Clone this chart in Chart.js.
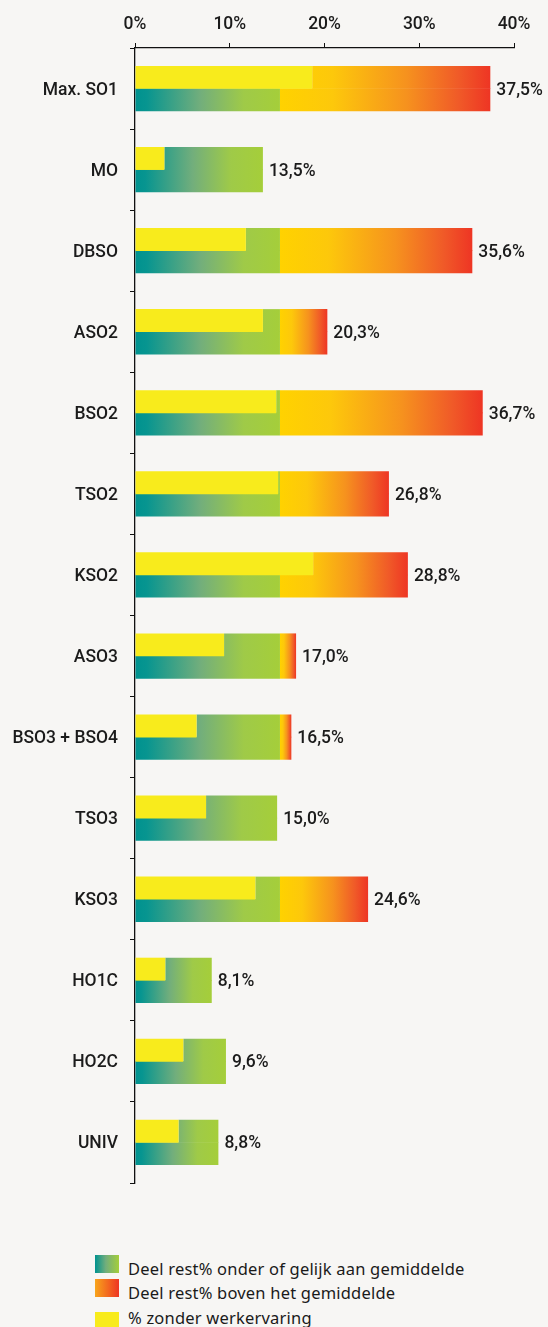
<!DOCTYPE html>
<html>
<head>
<meta charset="utf-8">
<script src="https://cdn.jsdelivr.net/npm/chart.js"></script>
<style>
  html, body { margin: 0; padding: 0; background: #f7f6f4; }
  #wrap { position: relative; width: 548px; height: 1327px; overflow: hidden; }
  #chart { position: absolute; left: 0; top: 0; }
  .legend-item { position: absolute; font-family: "Noto Sans", "Open Sans", sans-serif; font-size: 16.5px; letter-spacing: 0.2px; color: #1a1a1a; white-space: nowrap; }
  .legend-box { position: absolute; left: 95px; width: 24px; height: 18px; }
</style>
</head>
<body>
<div id="wrap">
  <canvas id="chart" width="548" height="1200"></canvas>
  <div class="legend-box" style="top:1255px;background:linear-gradient(to right,#00928f,#72ae7c 45%,#a5ce3a)"></div>
  <div class="legend-box" style="top:1279px;background:linear-gradient(to right,#f8a51b,#ee3524)"></div>
  <div class="legend-box" style="top:1312px;background:#f8eb1c"></div>
  <div class="legend-item" style="left:128px;top:1257px">Deel rest% onder of gelijk aan gemiddelde</div>
  <div class="legend-item" style="left:128px;top:1281px">Deel rest% boven het gemiddelde</div>
  <div class="legend-item" style="left:128px;top:1306px">% zonder werkervaring</div>
</div>
<script>
// categories and values
const categories = ['Max. SO1', 'MO', 'DBSO', 'ASO2', 'BSO2', 'TSO2', 'KSO2', 'ASO3', 'BSO3 + BSO4', 'TSO3', 'KSO3', 'HO1C', 'HO2C', 'UNIV'];
const totals = [37.5, 13.5, 35.6, 20.3, 36.7, 26.8, 28.8, 17.0, 16.5, 15.0, 24.6, 8.1, 9.6, 8.8];
const zonderWerkervaring = [18.7, 3.1, 11.7, 13.5, 14.9, 15.1, 18.8, 9.4, 6.5, 7.5, 12.7, 3.2, 5.1, 4.6];
const gemiddelde = 15.3;
const xTicks = [0, 10, 20, 30, 40];

// split each bar around the average
const under = totals.map(t => Math.min(t, gemiddelde));
const over = totals.map((t, i) => t - under[i]);
const topGreen = under.map((u, i) => Math.max(0, u - zonderWerkervaring[i]));
const topOrange = totals.map((t, i) => t - Math.max(zonderWerkervaring[i], under[i]));

const yellow = '#f8eb1c';
const textColor = '#1b1b1b';
const narrow = 0.92; // squeeze Roboto to look like the condensed face of the original

function greenFill(ctx) {
    const chart = ctx.chart;
    const x = chart.scales.x;
    if (!chart.chartArea || !x) return '#a5ce3a';
    const i = ctx.dataIndex;
    const x0 = x.getPixelForValue(0);
    const x1 = x.getPixelForValue(under[i]);
    const g = chart.ctx.createLinearGradient(x0, 0, x1, 0);
    g.addColorStop(0, '#00928f');
    g.addColorStop(0.08, '#079590');
    g.addColorStop(0.45, '#72ae7c');
    g.addColorStop(0.75, '#9fca48');
    g.addColorStop(1, '#a5ce3a');
    return g;
}

function orangeFill(ctx) {
    const chart = ctx.chart;
    const x = chart.scales.x;
    if (!chart.chartArea || !x) return '#f6921e';
    const i = ctx.dataIndex;
    const x0 = x.getPixelForValue(under[i]);
    const x1 = x.getPixelForValue(totals[i]);
    const g = chart.ctx.createLinearGradient(x0, 0, x1, 0);
    g.addColorStop(0, '#ffd200');
    g.addColorStop(0.25, '#fdc80b');
    g.addColorStop(0.6, '#f6921e');
    g.addColorStop(0.85, '#f05a28');
    g.addColorStop(1, '#ee3524');
    return g;
}

function narrowText(ctx, text, x, y, align) {
    ctx.save();
    ctx.translate(x, y);
    ctx.scale(narrow, 1);
    ctx.textAlign = align;
    ctx.fillText(text, 0, 0);
    ctx.restore();
}

// tick labels and value labels, drawn condensed
const labels = {
    id: 'labels',
    afterDatasetsDraw(chart) {
        const { ctx, scales } = chart;
        ctx.save();
        ctx.font = '500 19px Roboto, "DejaVu Sans Condensed", sans-serif';
        ctx.fillStyle = textColor;
        ctx.textBaseline = 'alphabetic';
        xTicks.forEach(v => {
            narrowText(ctx, v + '%', scales.x.getPixelForValue(v), 29, 'center');
        });
        categories.forEach((c, i) => {
            const py = scales.y.getPixelForValue(i) + 6;
            narrowText(ctx, c, 118, py, 'right');
            const px = scales.x.getPixelForValue(totals[i]) + 6;
            narrowText(ctx, totals[i].toFixed(1).replace('.', ',') + '%', px, py, 'left');
        });
        ctx.restore();
    }
};

// halves a touch taller than their slot so they overlap and leave no seam
const bar = { categoryPercentage: 0.55, barPercentage: 1.03, borderWidth: 0, borderSkipped: false, inflateAmount: 0 };

new Chart(document.getElementById('chart'), {
    type: 'bar',
    data: {
        labels: categories,
        datasets: [
            { ...bar, label: '% zonder werkervaring', data: zonderWerkervaring, stack: 'top', backgroundColor: yellow },
            { ...bar, label: 'top green', data: topGreen, stack: 'top', backgroundColor: greenFill },
            { ...bar, label: 'top orange', data: topOrange, stack: 'top', backgroundColor: orangeFill },
            { ...bar, label: 'Deel rest% onder of gelijk aan gemiddelde', data: under, stack: 'bottom', backgroundColor: greenFill },
            { ...bar, label: 'Deel rest% boven het gemiddelde', data: over, stack: 'bottom', backgroundColor: orangeFill }
        ]
    },
    options: {
        indexAxis: 'y',
        responsive: false,
        animation: false,
        layout: { padding: { top: 0, right: 34, bottom: 17, left: 0 } },
        scales: {
            x: {
                position: 'top',
                stacked: true,
                min: 0,
                max: 40,
                afterBuildTicks: axis => { axis.ticks = xTicks.map(v => ({ value: v })); },
                afterFit: axis => { axis.height = 48; },
                grid: { drawOnChartArea: false, drawTicks: true, tickLength: 5, color: '#111' },
                border: { display: true, color: '#111', width: 1.3 },
                ticks: { display: false }
            },
            y: {
                stacked: true,
                afterFit: axis => { axis.width = 135; },
                grid: { offset: true, drawOnChartArea: false, drawTicks: true, tickLength: 5, color: '#111' },
                border: { display: true, color: '#111', width: 1.3 },
                ticks: { display: false }
            }
        },
        plugins: {
            legend: { display: false },
            tooltip: { enabled: false }
        }
    },
    plugins: [labels]
});
</script>
</body>
</html>
